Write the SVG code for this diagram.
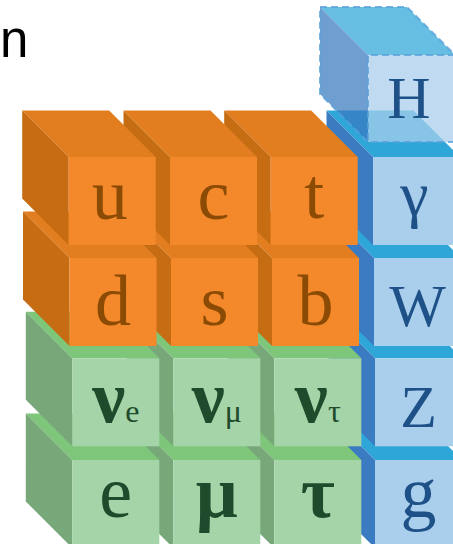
<svg xmlns="http://www.w3.org/2000/svg" width="453" height="544" viewBox="0 0 453 544">
<defs>
<style>
.ot{fill:#e37e20}.os{fill:#c66c13}.of{fill:#f3892a}
.gt{fill:#7dc67a}.gs{fill:#78a87a}.gf{fill:#a4d4a7}
.bt{fill:#2ea7d8}.bs{fill:#3a7bc1}.bf{fill:#aacfec}
.lo{font-family:"Liberation Serif","Times New Roman",serif;font-size:72px;fill:#8b4b05;text-anchor:middle}
.lg{font-family:"Liberation Serif","Times New Roman",serif;font-size:74px;fill:#1f4a2b;text-anchor:middle}
.lb{font-family:"Liberation Serif","Times New Roman",serif;font-size:60px;fill:#1f5189;text-anchor:middle}
.bold{font-weight:bold}
.sub{font-size:32px;font-weight:normal}
.hd{stroke:#5aa2da;stroke-width:2;stroke-dasharray:7 4;stroke-linejoin:round}
</style>
</defs>
<text x="0" y="57" font-family="Liberation Sans, Arial, sans-serif" font-size="51" fill="#000">n</text>

<!-- row 3 -->
<g id="cube-g" transform="translate(375,460)"><polygon class="bt" points="-46.5,-46.5 40.5,-46.5 87,0 0,0"/><polygon class="bs" points="-46.5,-46.5 0,0 0,88 -46.5,41.5"/><rect class="bf" width="87" height="88"/><text class="lb" x="43.5" y="57" style="font-size:72px">g</text></g>
<g id="cube-tau" transform="translate(274.3,460)"><polygon class="gt" points="-46.5,-46.5 40.5,-46.5 87,0 0,0"/><polygon class="gs" points="-46.5,-46.5 0,0 0,88 -46.5,41.5"/><rect class="gf" width="87" height="88"/><text class="lg bold" x="43.5" y="57">τ</text></g>
<g id="cube-mu" transform="translate(173.3,460)"><polygon class="gt" points="-46.5,-46.5 40.5,-46.5 87,0 0,0"/><polygon class="gs" points="-46.5,-46.5 0,0 0,88 -46.5,41.5"/><rect class="gf" width="87" height="88"/><text class="lg bold" x="43.5" y="57">μ</text></g>
<g id="cube-e" transform="translate(72.3,460)"><polygon class="gt" points="-46.5,-46.5 40.5,-46.5 87,0 0,0"/><polygon class="gs" points="-46.5,-46.5 0,0 0,88 -46.5,41.5"/><rect class="gf" width="87" height="88"/><text class="lg" x="43.5" y="57">e</text></g>

<!-- row 2 -->
<g id="cube-Z" transform="translate(375,358.3)"><polygon class="bt" points="-46.5,-46.5 40.5,-46.5 87,0 0,0"/><polygon class="bs" points="-46.5,-46.5 0,0 0,88 -46.5,41.5"/><rect class="bf" width="87" height="88"/><text class="lb" x="43.5" y="68.7">Z</text></g>
<g id="cube-nutau" transform="translate(274.3,358.3)"><polygon class="gt" points="-46.5,-46.5 40.5,-46.5 87,0 0,0"/><polygon class="gs" points="-46.5,-46.5 0,0 0,88 -46.5,41.5"/><rect class="gf" width="87" height="88"/><text class="lg bold" x="43.5" y="64">ν<tspan class="sub">τ</tspan></text></g>
<g id="cube-numu" transform="translate(173.3,358.3)"><polygon class="gt" points="-46.5,-46.5 40.5,-46.5 87,0 0,0"/><polygon class="gs" points="-46.5,-46.5 0,0 0,88 -46.5,41.5"/><rect class="gf" width="87" height="88"/><text class="lg bold" x="43.5" y="64">ν<tspan class="sub">μ</tspan></text></g>
<g id="cube-nue" transform="translate(72.3,358.3)"><polygon class="gt" points="-46.5,-46.5 40.5,-46.5 87,0 0,0"/><polygon class="gs" points="-46.5,-46.5 0,0 0,88 -46.5,41.5"/><rect class="gf" width="87" height="88"/><text class="lg bold" x="43.5" y="64">ν<tspan class="sub">e</tspan></text></g>

<!-- row 1 -->
<g id="cube-W" transform="translate(374,258)"><polygon class="bt" points="-46.5,-46.5 40.5,-46.5 87,0 0,0"/><polygon class="bs" points="-46.5,-46.5 0,0 0,88 -46.5,41.5"/><rect class="bf" width="87" height="88"/><text class="lb" x="43.5" y="68">W</text></g>
<g id="cube-b" transform="translate(272,258)"><polygon class="ot" points="-46.5,-46.5 40.5,-46.5 87,0 0,0"/><polygon class="os" points="-46.5,-46.5 0,0 0,88 -46.5,41.5"/><rect class="of" width="87" height="88"/><text class="lo" x="43.5" y="67">b</text></g>
<g id="cube-s" transform="translate(171,258)"><polygon class="ot" points="-46.5,-46.5 40.5,-46.5 87,0 0,0"/><polygon class="os" points="-46.5,-46.5 0,0 0,88 -46.5,41.5"/><rect class="of" width="87" height="88"/><text class="lo" x="43.5" y="67">s</text></g>
<g id="cube-d" transform="translate(69.5,258)"><polygon class="ot" points="-46.5,-46.5 40.5,-46.5 87,0 0,0"/><polygon class="os" points="-46.5,-46.5 0,0 0,88 -46.5,41.5"/><rect class="of" width="87" height="88"/><text class="lo" x="43.5" y="67">d</text></g>

<!-- row 0 -->
<g id="cube-gamma" transform="translate(373,157)"><polygon class="bt" points="-46.5,-46.5 40.5,-46.5 87,0 0,0"/><polygon class="bs" points="-46.5,-46.5 0,0 0,88 -46.5,41.5"/><rect class="bf" width="87" height="88"/><text class="lb" x="41.5" y="58" style="font-size:64px">γ</text></g>
<g id="cube-t" transform="translate(270.7,157)"><polygon class="ot" points="-46.5,-46.5 40.5,-46.5 87,0 0,0"/><polygon class="os" points="-46.5,-46.5 0,0 0,88 -46.5,41.5"/><rect class="of" width="87" height="88"/><text class="lo" x="43.5" y="61">t</text></g>
<g id="cube-c" transform="translate(170,157)"><polygon class="ot" points="-46.5,-46.5 40.5,-46.5 87,0 0,0"/><polygon class="os" points="-46.5,-46.5 0,0 0,88 -46.5,41.5"/><rect class="of" width="87" height="88"/><text class="lo" x="43.5" y="62">c</text></g>
<g id="cube-u" transform="translate(68.7,157)"><polygon class="ot" points="-46.5,-46.5 40.5,-46.5 87,0 0,0"/><polygon class="os" points="-46.5,-46.5 0,0 0,88 -46.5,41.5"/><rect class="of" width="87" height="88"/><text class="lo" x="41" y="62">u</text></g>

<!-- Higgs (translucent, dashed) -->
<g id="cube-H" transform="translate(368,55)">
<g opacity="0.73"><polygon class="bt" points="-48,-48 39,-48 87,0 0,0"/><polygon class="bs" points="-48,-48 0,0 0,87 -48,39"/><rect class="bf" width="87" height="87"/></g>
<g fill="none" class="hd" opacity="0.8"><polygon points="-48,-48 39,-48 87,0 87,87 0,87 -48,39"/><polyline points="87,0 0,0 0,87"/></g>
<text class="lb" x="41" y="63">H</text>
</g>
</svg>
